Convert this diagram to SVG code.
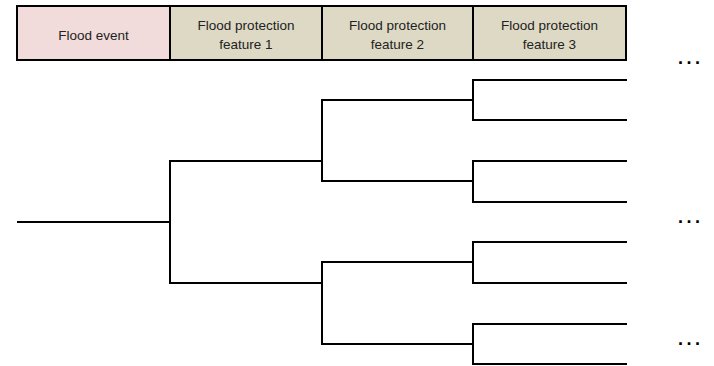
<svg xmlns="http://www.w3.org/2000/svg" width="714" height="366" viewBox="0 0 714 366">
<style>
.cell{stroke:#000;stroke-width:2}
.ev{fill:#F2DCDB}
.ft{fill:#DDD9C4}
.lbl{font-family:"Liberation Sans",Arial,sans-serif;font-size:13.5px;fill:#222;text-anchor:middle}
.dots{font-family:"Liberation Sans",Arial,sans-serif;font-size:18px;font-weight:bold;fill:#000;letter-spacing:3.5px}
.tree path{fill:none;stroke:#000;stroke-width:2;stroke-linecap:square}
</style>
<rect width="714" height="366" fill="#fff"/>
<g id="header">
<g id="flood-event">
<rect class="cell ev" x="17" y="6" width="153" height="54"/>
<text class="lbl" x="93.5" y="39.5">Flood event</text>
</g>
<g id="feature-1">
<rect class="cell ft" x="170" y="6" width="152" height="54"/>
<text class="lbl" x="246" y="29.5">Flood protection</text>
<text class="lbl" x="246" y="48.5">feature 1</text>
</g>
<g id="feature-2">
<rect class="cell ft" x="322" y="6" width="151" height="54"/>
<text class="lbl" x="397.5" y="29.5">Flood protection</text>
<text class="lbl" x="397.5" y="48.5">feature 2</text>
</g>
<g id="feature-3">
<rect class="cell ft" x="473" y="6" width="153" height="54"/>
<text class="lbl" x="549.5" y="29.5">Flood protection</text>
<text class="lbl" x="549.5" y="48.5">feature 3</text>
</g>
</g>
<g id="connectors" class="tree">
<path d="M18 222H170"/>
<path d="M322 161H170V283H322"/>
<path d="M473 100H322V181H473"/>
<path d="M473 262H322V344H473"/>
<path d="M626 80H473V120H626"/>
<path d="M626 161H473V202H626"/>
<path d="M626 242H473V283H626"/>
<path d="M626 324H473V364H626"/>
</g>
<g id="ellipses">
<text class="dots" x="678" y="63.5">...</text>
<text class="dots" x="678" y="222.5">...</text>
<text class="dots" x="678" y="345">...</text>
</g>
</svg>
